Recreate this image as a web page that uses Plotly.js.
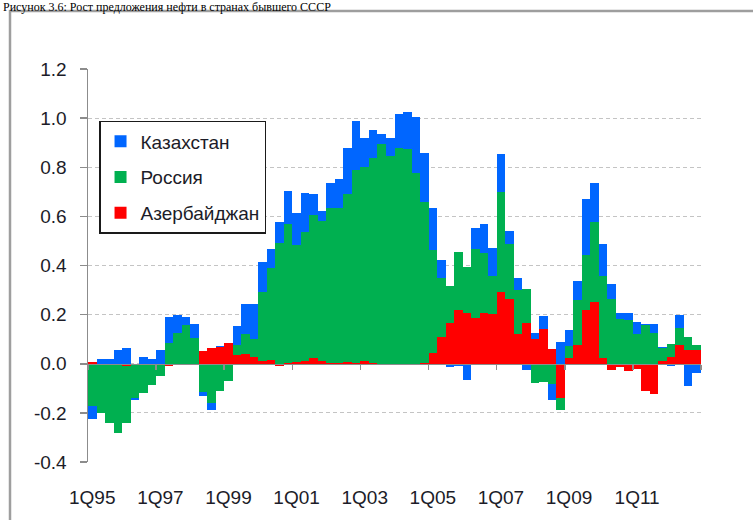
<!DOCTYPE html>
<html>
<head>
<meta charset="utf-8">
<script src="https://cdn.plot.ly/plotly-3.0.1.min.js"></script>
<style>
html,body{margin:0;padding:0;background:#fff;overflow:hidden;}
#chart{width:753px;height:520px;}
</style>
</head>
<body>
<div id="chart"></div>
<script>
// Quarters 1Q95 .. 4Q12
const quarters = [
"1Q95","2Q95","3Q95","4Q95","1Q96","2Q96","3Q96","4Q96",
"1Q97","2Q97","3Q97","4Q97","1Q98","2Q98","3Q98","4Q98",
"1Q99","2Q99","3Q99","4Q99","1Q00","2Q00","3Q00","4Q00",
"1Q01","2Q01","3Q01","4Q01","1Q02","2Q02","3Q02","4Q02",
"1Q03","2Q03","3Q03","4Q03","1Q04","2Q04","3Q04","4Q04",
"1Q05","2Q05","3Q05","4Q05","1Q06","2Q06","3Q06","4Q06",
"1Q07","2Q07","3Q07","4Q07","1Q08","2Q08","3Q08","4Q08",
"1Q09","2Q09","3Q09","4Q09","1Q10","2Q10","3Q10","4Q10",
"1Q11","2Q11","3Q11","4Q11","1Q12","2Q12","3Q12","4Q12"
];

const azerbaijan = [
 0.008, 0.000, 0.000, 0.000,-0.009, 0.000, 0.000, 0.000,
 0.000,-0.008, 0.000, 0.000, 0.000, 0.050, 0.063, 0.067,
 0.084, 0.036, 0.041, 0.027, 0.012, 0.015,-0.010, 0.005,
 0.008, 0.010, 0.025, 0.012, 0.005, 0.005, 0.008, 0.003,
 0.010, 0.005,-0.005,-0.005,-0.005,-0.004,-0.006, 0.005,
 0.044, 0.109, 0.166, 0.220, 0.207, 0.188, 0.207, 0.201,
 0.293, 0.265, 0.122, 0.166, 0.102, 0.140, 0.061,-0.139,
 0.023, 0.075, 0.220, 0.252, 0.023,-0.027,-0.012,-0.028,
-0.020,-0.110,-0.124, 0.010, 0.029, 0.076, 0.055, 0.055
];

const russia = [
-0.173,-0.200,-0.240,-0.283,-0.231,-0.140,-0.120,-0.087,
-0.049, 0.084, 0.125, 0.156, 0.104,-0.114,-0.160,-0.110,
-0.069, 0.041, 0.081, 0.075, 0.281, 0.373, 0.490, 0.566,
 0.475, 0.525, 0.580, 0.569, 0.628, 0.628, 0.682, 0.786,
 0.793, 0.834, 0.894, 0.844, 0.880, 0.873, 0.778, 0.652,
 0.419, 0.242, 0.151, 0.236, 0.185, 0.281, 0.242, 0.155,
 0.405, 0.222, 0.177, 0.137,-0.079,-0.075,-0.082,-0.051,
 0.048, 0.184, 0.222, 0.326, 0.333, 0.265, 0.183, 0.177,
 0.121, 0.156, 0.124, 0.053, 0.051, 0.070, 0.053, 0.021
];

const kazakhstan = [
-0.050, 0.020, 0.020, 0.057, 0.064,-0.007, 0.027, 0.020,
 0.057, 0.105, 0.072, 0.033, 0.059,-0.018,-0.030, 0.004,
 0.000, 0.078, 0.123, 0.143, 0.122, 0.079, 0.088, 0.134,
 0.129, 0.162, 0.085, 0.042, 0.104, 0.118, 0.190, 0.201,
 0.118, 0.113, 0.041, 0.077, 0.138, 0.151, 0.226, 0.200,
 0.170, 0.071,-0.014,-0.010,-0.068, 0.085, 0.122, 0.117,
 0.156, 0.054, 0.052,-0.027, 0.025, 0.055,-0.064, 0.088,
 0.068, 0.078, 0.227, 0.159, 0.131, 0.059, 0.024, 0.030,
 0.051, 0.007, 0.039, 0.006,-0.011, 0.051,-0.090,-0.037
];

const seriesNames = ["Азербайджан","Россия","Казахстан"];
const seriesColors = ["#ff0000","#00b050","#0066ff"];
const legendRanks = [3, 2, 1];

const yTickVals = [-0.4,-0.2,0,0.2,0.4,0.6,0.8,1.0,1.2];
const yTickText = ["-0.4","-0.2","0.0","0.2","0.4","0.6","0.8","1.0","1.2"];

const caption = "Рисунок 3.6: Рост предложения нефти в странах бывшего СССР";

const seriesValues = [azerbaijan, russia, kazakhstan];
const traces = seriesValues.map((vals, i) => ({
  type: "bar",
  name: seriesNames[i],
  x: quarters,
  y: vals,
  legendgroup: "g" + i,
  legendrank: legendRanks[i],
  marker: {color: seriesColors[i], line: {width: 0}},
  hoverinfo: "x+y+name"
}));
// helper trace so the zero-line axis exists
traces.push({type:"scatter", x:[quarters[0]], y:[null], xaxis:"x2", showlegend:false, hoverinfo:"skip"});

const font = "Liberation Sans, Arial, sans-serif";
const layout = {
  width: 753, height: 520,
  margin: {l: 88, r: 52, t: 69, b: 58},
  barmode: "relative",
  bargap: 0,
  paper_bgcolor: "#ffffff",
  plot_bgcolor: "#ffffff",
  font: {family: font, size: 19, color: "#1c1c28"},
  showlegend: true,
  legend: {
    x: 0.018, y: 0.868, xanchor: "left", yanchor: "top",
    bgcolor: "#ffffff", bordercolor: "#1a1a1a", borderwidth: 1.5,
    font: {family: font, size: 19, color: "#1c1c28"},
    traceorder: "grouped", tracegroupgap: 8
  },
  xaxis: {
    type: "category",
    categoryorder: "array", categoryarray: quarters,
    range: [-0.5, quarters.length - 0.5],
    tickmode: "linear", tick0: 0, dtick: 8,
    ticks: "", showgrid: false, showline: false, zeroline: false,
    ticklabelstandoff: 22,
    tickfont: {family: font, size: 19, color: "#1c1c28"}
  },
  xaxis2: {
    type: "category",
    overlaying: "x", matches: "x",
    anchor: "free", position: 0.25,
    tickmode: "linear", tick0: 0, dtick: 8,
    tickson: "boundaries",
    ticks: "outside", ticklen: 5, tickwidth: 1.5, tickcolor: "#8c8c8c",
    showticklabels: false, showgrid: false, zeroline: false,
    showline: true, linecolor: "#8c8c8c", linewidth: 1.5,
    layer: "above traces"
  },
  yaxis: {
    range: [-0.4, 1.2],
    tickmode: "array", tickvals: yTickVals, ticktext: yTickText,
    ticks: "outside", ticklen: 7, tickwidth: 1.5, tickcolor: "#8c8c8c",
    showline: true, linecolor: "#8c8c8c", linewidth: 1.5,
    showgrid: true, gridcolor: "#c4c4c4", gridwidth: 1, griddash: "4px,3px",
    zeroline: false,
    ticklabelstandoff: 9,
    tickfont: {family: font, size: 19, color: "#1c1c28"}
  },
  shapes: [{
    type: "rect", xref: "paper", yref: "paper",
    x0: (10 - 88) / 613, x1: 2, y0: -2, y1: (462 - 11) / 393,
    line: {color: "#9e9e9e", width: 2.5}, fillcolor: "rgba(0,0,0,0)", layer: "below"
  }],
  annotations: [{
    text: caption, xref: "paper", yref: "paper",
    x: (2 - 88) / 613, y: (462 + 1) / 393,
    xanchor: "left", yanchor: "top", showarrow: false, borderpad: 0,
    font: {family: "Liberation Serif, Times New Roman, serif", size: 12, color: "#000"}
  }]
};

Plotly.newPlot("chart", traces, layout, {displayModeBar: false, staticPlot: true});
</script>
</body>
</html>
